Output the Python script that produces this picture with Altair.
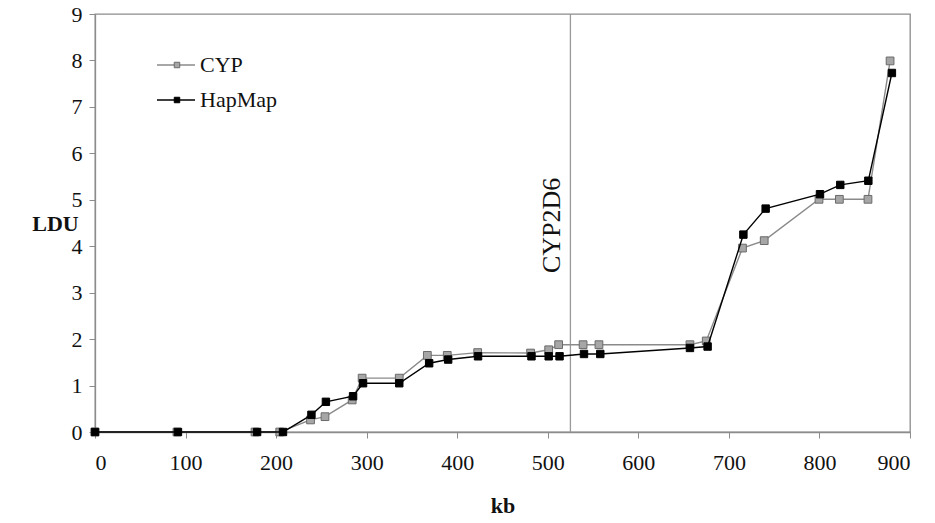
import altair as alt
import pandas as pd

# LDU map positions (kb) and cumulative LDU values for the two marker sets
kb_cyp = [0, 90.5, 176.7, 204, 238, 254, 284, 295, 336, 367, 389, 422.6, 481, 501,
          512, 539, 556.5, 657, 675, 715, 739, 799.5, 822, 853.6, 878]
ldu_cyp = [0, 0, 0, 0, 0.26, 0.33, 0.69, 1.16, 1.16, 1.65, 1.65, 1.71, 1.70, 1.77,
           1.88, 1.88, 1.88, 1.88, 1.96, 3.96, 4.12, 5.01, 5.01, 5.01, 7.99]

kb_hap = [0, 91.6, 179, 207.6, 239, 255, 285, 296, 336, 369, 390, 423, 482, 501,
          513, 540, 558, 657, 676.5, 716, 740.6, 800.6, 823, 854, 880]
ldu_hap = [0, 0, 0, 0, 0.37, 0.65, 0.77, 1.05, 1.05, 1.48, 1.56, 1.63, 1.63, 1.63,
           1.63, 1.68, 1.68, 1.81, 1.84, 4.25, 4.81, 5.12, 5.32, 5.41, 7.73]

gene_name = "CYP2D6"
gene_kb = 525
gene_label_ldu = 4.45

x_ticks = list(range(0, 901, 100))
y_ticks = list(range(0, 10))

FONT = "Liberation Serif"

cyp = pd.DataFrame({"kb": kb_cyp, "LDU": ldu_cyp})
hap = pd.DataFrame({"kb": kb_hap, "LDU": ldu_hap})

x_enc = alt.X(
    "kb:Q",
    title="kb",
    scale=alt.Scale(domain=[0, 900], nice=False, zero=False),
    axis=alt.Axis(values=x_ticks, format="d", titleY=73, titleBaseline="middle",
                  labelPadding=14),
)
y_enc = alt.Y(
    "LDU:Q",
    title="LDU",
    scale=alt.Scale(domain=[0, 9], nice=False),
    axis=alt.Axis(values=y_ticks, format="d", titleAngle=0, titleX=-40, titleY=209,
                  titleAlign="center", titleBaseline="middle", labelPadding=7),
)


def series(df, line_color, fill, stroke, size):
    line = alt.Chart(df).mark_line(color=line_color, strokeWidth=1.4).encode(x=x_enc, y=y_enc)
    pts = alt.Chart(df).mark_point(
        shape="square", filled=True, fill=fill, stroke=stroke, strokeWidth=1,
        size=size, opacity=1,
    ).encode(x="kb:Q", y="LDU:Q")
    return line + pts


cyp_layer = series(cyp, "#8a8a8a", "#a6a6a6", "#6a6a6a", 60)
hap_layer = series(hap, "#000000", "#000000", "#000000", 55)

# Vertical marker for the gene position and its rotated label
gene_rule = alt.Chart(pd.DataFrame({"kb": [gene_kb]})).mark_rule(
    color="#9a9a9a", strokeWidth=1.3
).encode(x="kb:Q")
gene_text = alt.Chart(pd.DataFrame({"kb": [gene_kb], "LDU": [gene_label_ldu], "t": [gene_name]})).mark_text(
    angle=270, font=FONT, fontSize=26, align="center", baseline="middle", dy=-18, color="#111"
).encode(x="kb:Q", y="LDU:Q", text="t:N")

# Legend drawn in the upper-left corner of the plot area
legend_rows = [("CYP", 51, "#8a8a8a", "#a6a6a6", "#6a6a6a"), ("HapMap", 86, "#000000", "#000000", "#000000")]
legend_layers = []
for name, ypos, lc, fc, sc in legend_rows:
    d = pd.DataFrame({"t": [name]})
    legend_layers.append(
        alt.Chart(d).mark_rule(color=lc, strokeWidth=1.4).encode(
            x=alt.value(62), x2=alt.value(100), y=alt.value(ypos))
    )
    legend_layers.append(
        alt.Chart(d).mark_point(shape="square", filled=True, fill=fc, stroke=sc,
                                strokeWidth=1, size=30, opacity=1).encode(
            x=alt.value(82), y=alt.value(ypos))
    )
    legend_layers.append(
        alt.Chart(d).mark_text(font=FONT, fontSize=22, align="left", baseline="middle",
                               color="#111").encode(
            x=alt.value(105), y=alt.value(ypos), text="t:N")
    )

chart = alt.layer(
    gene_rule, cyp_layer, hap_layer, gene_text, *legend_layers
).properties(
    width=815,
    height=418,
    padding={"left": 95, "top": 14, "right": 25, "bottom": 91},
    autosize=alt.AutoSizeParams(type="none"),
    background="white",
).configure_view(
    stroke="#8c8c8c", strokeWidth=1.3
).configure_axis(
    grid=False,
    domainColor="#8c8c8c",
    domainWidth=1.3,
    tickColor="#8c8c8c",
    tickSize=6,
    labelFont=FONT,
    labelFontSize=22,
    labelColor="#111",
    titleFont=FONT,
    titleFontSize=22,
    titleFontWeight="bold",
    titleColor="#111",
)

chart.save("out.html", embed_options={"renderer": "svg", "actions": False})
